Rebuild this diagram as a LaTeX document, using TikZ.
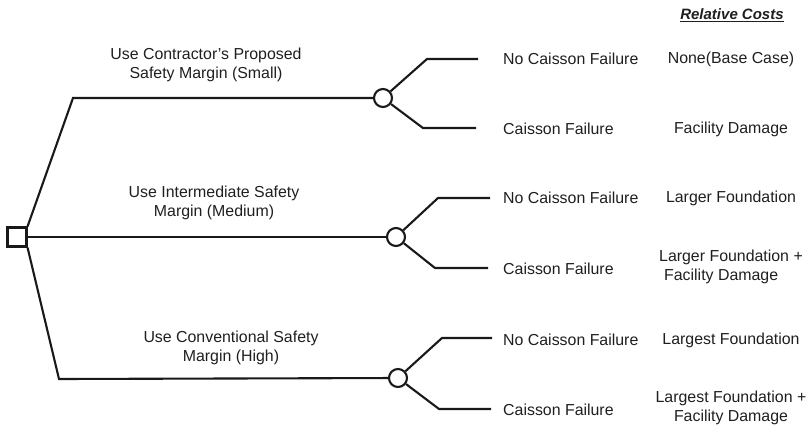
\documentclass[tikz,border=0pt]{standalone}
\usepackage{fontspec}
\setmainfont{Liberation Sans}
\begin{document}
\begin{tikzpicture}[x=1pt,y=-1pt,
  ink/.style={line width=2.1pt,draw=black!90},
  decision/.style={ink,rectangle,minimum size=19pt,inner sep=0pt},
  chance/.style={ink,circle,minimum size=18pt,inner sep=0pt,fill=white},
  lbl/.style={font=\fontsize{15.9}{18.7}\selectfont,text=black!88,inner sep=0pt,align=center},
  outcome/.style={lbl,anchor=west},
  cost/.style={lbl}]
\useasboundingbox (0,0) rectangle (812,429);

% decision and chance nodes
\node[decision] (d) at (17,237) {};
\node[chance] (c1) at (383,98) {};
\node[chance] (c2) at (396,237) {};
\node[chance] (c3) at (398,378) {};

% bends of the alternative branches
\coordinate (k1) at (73,98);
\coordinate (k3) at (59,379);

\draw[ink] (d.north east) -- (k1) -- (c1);
\draw[ink] (d.east) -- (c2);
\draw[ink] (d.south east) -- (k3) -- (c3);

% chance branches
\coordinate (u1) at (427,59);  \coordinate (u1e) at (478,59);
\coordinate (l1) at (423,128); \coordinate (l1e) at (476,128);
\coordinate (u2) at (438,198); \coordinate (u2e) at (490,198);
\coordinate (l2) at (435,268); \coordinate (l2e) at (488,268);
\coordinate (u3) at (442,338); \coordinate (u3e) at (492,338);
\coordinate (l3) at (439,409); \coordinate (l3e) at (491,409);

\draw[ink] (c1) -- (u1) -- (u1e);
\draw[ink] (c1) -- (l1) -- (l1e);
\draw[ink] (c2) -- (u2) -- (u2e);
\draw[ink] (c2) -- (l2) -- (l2e);
\draw[ink] (c3) -- (u3) -- (u3e);
\draw[ink] (c3) -- (l3) -- (l3e);

% alternative labels
\node[lbl] (t1) at (206,65) {Use Contractor’s Proposed\\Safety Margin (Small)};
\node[lbl] (t2) at (214,203) {Use Intermediate Safety\\Margin (Medium)};
\node[lbl] (t3) at (231,348) {Use Conventional Safety\\Margin (High)};

% outcomes
\node[outcome] (o1) at (503,59) {No Caisson Failure};
\node[outcome] (o2) at (503,129) {Caisson Failure};
\node[outcome] (o3) at (503,198) {No Caisson Failure};
\node[outcome] (o4) at (503,269) {Caisson Failure};
\node[outcome] (o5) at (503,340) {No Caisson Failure};
\node[outcome] (o6) at (503,410) {Caisson Failure};

% relative costs
\node[cost,font=\fontsize{15}{18}\selectfont\bfseries\itshape] (hdr) at (732,15) {\underline{Relative Costs}};
\node[cost] (r1) at (731,59) {None(Base Case)};
\node[cost] (r2) at (731,129) {Facility Damage};
\node[cost] (r3) at (731,198) {Larger Foundation};
\node[cost,align=left] (r4) at (731,267) {Larger Foundation +\\\hspace{5pt}Facility Damage};
\node[cost] (r5) at (731,340) {Largest Foundation};
\node[cost] (r6) at (731,408) {Largest Foundation +\\Facility Damage};
\end{tikzpicture}
\end{document}
